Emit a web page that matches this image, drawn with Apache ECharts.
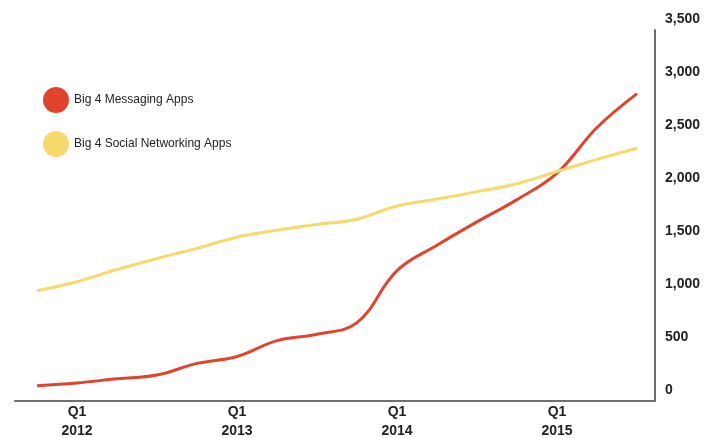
<!DOCTYPE html>
<html>
<head>
<meta charset="utf-8">
<script src="https://cdn.jsdelivr.net/npm/echarts@6/dist/echarts.min.js"></script>
<style>
  html, body { margin: 0; padding: 0; background: #fff; }
  #chart { width: 704px; height: 438px; }
</style>
</head>
<body>
<div id="chart"></div>
<script>
// quarters, first point is Q4 2011 (index -1)
var quarters = ['Q4 2011', 'Q1 2012', 'Q2 2012', 'Q3 2012', 'Q4 2012', 'Q1 2013', 'Q2 2013', 'Q3 2013',
    'Q4 2013', 'Q1 2014', 'Q2 2014', 'Q3 2014', 'Q4 2014', 'Q1 2015', 'Q2 2015', 'Q3 2015'];
var messaging = [145, 170, 210, 245, 355, 420, 570, 630, 740, 1230, 1470, 1690, 1900, 2150, 2580, 2900];
var social = [1040, 1125, 1240, 1345, 1440, 1545, 1610, 1665, 1715, 1840, 1905, 1975, 2050, 2165, 2280, 2385];
var tickLabels = {0: 'Q1\n2012', 4: 'Q1\n2013', 8: 'Q1\n2014', 12: 'Q1\n2015'};

function toPoints(values) {
    var result = [];
    for (var i = 0; i < values.length; i++) {
        result.push([i - 1, values[i]]);
    }
    return result;
}

var font = '"Liberation Sans", Arial, Helvetica, sans-serif';
var myChart = echarts.init(document.getElementById('chart'));

var option = {
    animation: false,
    backgroundColor: '#fff',
    grid: {left: 15, right: 49, top: 30, bottom: 37, outerBoundsMode: 'none'},
    legend: {
        orient: 'vertical',
        left: 38,
        top: 82,
        icon: 'circle',
        itemWidth: 26,
        itemHeight: 26,
        itemGap: 18,
        textStyle: {fontFamily: font, fontSize: 12, color: '#222'},
        data: ['Big 4 Messaging Apps', 'Big 4 Social Networking Apps']
    },
    xAxis: {
        type: 'value',
        min: -1.55,
        max: 14.45,
        splitLine: {show: false},
        axisTick: {show: false},
        axisLine: {show: true, onZero: false, lineStyle: {color: '#6e6e6e', width: 2}},
        axisLabel: {
            customValues: [0, 4, 8, 12],
            margin: 2,
            fontFamily: font,
            fontSize: 14,
            fontWeight: 'bold',
            color: '#222',
            lineHeight: 19,
            formatter: function (v) {
                return tickLabels[v] || '';
            }
        }
    },
    yAxis: {
        type: 'value',
        position: 'right',
        min: 0,
        max: 3500,
        interval: 500,
        splitLine: {show: false},
        axisTick: {show: false},
        axisLine: {show: true, onZero: false, lineStyle: {color: '#6e6e6e', width: 2}},
        axisLabel: {
            margin: 10,
            fontFamily: font,
            fontSize: 14,
            fontWeight: 'bold',
            color: '#222',
            verticalAlign: 'bottom',
            padding: [0, 0, 4, 0],
            formatter: function (v) {
                return v.toLocaleString('en-US');
            }
        }
    },
    series: [
        {
            name: 'Big 4 Messaging Apps',
            type: 'line',
            smooth: 0.4,
            showSymbol: false,
            color: '#e0442d',
            lineStyle: {width: 3, color: '#e0442d'},
            data: toPoints(messaging)
        },
        {
            name: 'Big 4 Social Networking Apps',
            type: 'line',
            smooth: 0.4,
            showSymbol: false,
            color: '#f7da6b',
            lineStyle: {width: 3, color: '#f7da6b'},
            data: toPoints(social)
        }
    ]
};

myChart.setOption(option);
</script>
</body>
</html>
